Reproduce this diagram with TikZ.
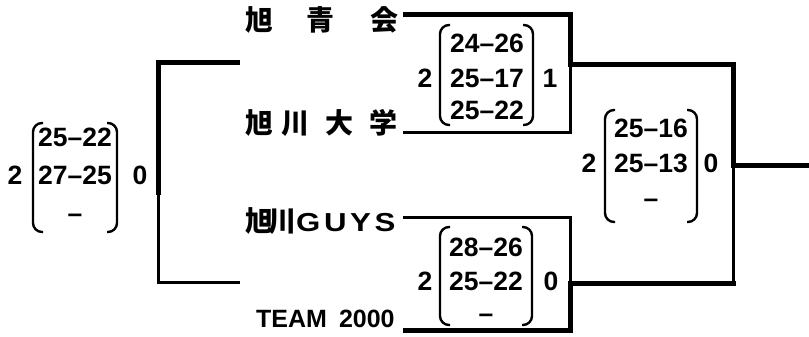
\documentclass[tikz,border=0pt]{standalone}
\usepackage{fontspec}
\setmainfont{Liberation Sans}
\newfontfamily\cjk{Noto Sans CJK JP}
\begin{document}
\begin{tikzpicture}[x=1pt,y=-1pt,
  thick line/.style={line width=5pt},
  thin line/.style={line width=3pt},
  paren/.style={line width=2.4pt, rounded corners=9pt},
  score/.style={inner sep=0pt, font=\fontsize{26.5}{26.5}\selectfont\bfseries, text height=0.72em, text depth=0pt, anchor=center},
  team/.style={inner sep=0pt, anchor=west, font=\fontsize{28}{28}\selectfont\cjk\bfseries, text height=0.88em, text depth=0.12em},
  teamlatin/.style={inner sep=0pt, anchor=west, font=\fontsize{25}{25}\selectfont\bfseries, text height=0.72em, text depth=0pt},
]
\useasboundingbox (0,0) rectangle (809,337);

% team names
\node[team] (t1) at (245,27) {旭\hspace{33pt}青\hspace{36pt}会};
\node[team] (t2) at (245,130) {旭\hspace{8pt}川\hspace{16pt}大\hspace{16pt}学};
\node[team] (t3) at (245,228) {旭\kern-5pt 川\kern0pt{\rmfamily\fontsize{26}{26}\selectfont\scalebox{1.2}[1]{G\kern3pt U\kern3pt Y\kern3pt S}}};
\node[teamlatin] (t4) at (256,324) {TEAM\hspace{12pt}2000};

% bracket points
\coordinate (a1) at (403,15);
\coordinate (a2) at (570,15);
\coordinate (a3) at (570,65);
\coordinate (a4) at (570,132);
\coordinate (a5) at (403,132);
\coordinate (c1) at (733,65);
\coordinate (c2) at (733,165);
\coordinate (c3) at (809,165);
\coordinate (c4) at (733,283);
\coordinate (d1) at (403,217);
\coordinate (d2) at (570,217);
\coordinate (d3) at (570,283);
\coordinate (d4) at (570,330);
\coordinate (d5) at (403,330);
\coordinate (e1) at (240,63);
\coordinate (e2) at (158,63);
\coordinate (e3) at (158,195);
\coordinate (e4) at (158,282);
\coordinate (e5) at (240,282);

% connectors
\draw[thick line] (a1) -- (a2) -- (a3) -- (c1) -- (c2) -- (c3);
\draw[thin line] (a3) -- (a4) -- (a5);
\draw[thin line] (c2) -- (c4);
\draw[thick line, line cap=rect] (c4) -- (d3);
\draw[thin line] (d1) -- (d2) -- (d3);
\draw[thick line] (d3) -- (d4) -- (d5);
\draw[thick line] (e1) -- (e2) -- (e3);
\draw[thin line] (e3) -- (e4) -- (e5);

% score box 1 (top)
\node[score] (b1l) at (425,84) {2};
\node[score] (b1r) at (550,84) {1};
\node[score] (b1a) at (487,49) {24–26};
\node[score] (b1b) at (487,84) {25–17};
\node[score] (b1c) at (487,116) {25–22};
\draw[paren] (450,25) -- (440,25) -- (440,125) -- (450,125);
\draw[paren] (523,25) -- (533,25) -- (533,125) -- (523,125);

% score box center
\node[score] (b2l) at (589,169) {2};
\node[score] (b2r) at (711,169) {0};
\node[score] (b2a) at (651,134) {25–16};
\node[score] (b2b) at (651,169) {25–13};
\node[score] (b2c) at (651,204) {–};
\draw[paren] (615,110) -- (605,110) -- (605,222) -- (615,222);
\draw[paren] (687,110) -- (697,110) -- (697,222) -- (687,222);

% score box bottom
\node[score] (b3l) at (425,287) {2};
\node[score] (b3r) at (551,287) {0};
\node[score] (b3a) at (486,253) {28–26};
\node[score] (b3b) at (486,287) {25–22};
\node[score] (b3c) at (486,319) {–};
\draw[paren] (450,227) -- (440,227) -- (440,325) -- (450,325);
\draw[paren] (522,227) -- (532,227) -- (532,325) -- (522,325);

% score box left
\node[score] (b4l) at (15,181) {2};
\node[score] (b4r) at (140,181) {0};
\node[score] (b4a) at (75,143) {25–22};
\node[score] (b4b) at (75,181) {27–25};
\node[score] (b4c) at (75,219) {–};
\draw[paren] (43,123) -- (33,123) -- (33,232) -- (43,232);
\draw[paren] (107,123) -- (117,123) -- (117,232) -- (107,232);
\end{tikzpicture}
\end{document}
